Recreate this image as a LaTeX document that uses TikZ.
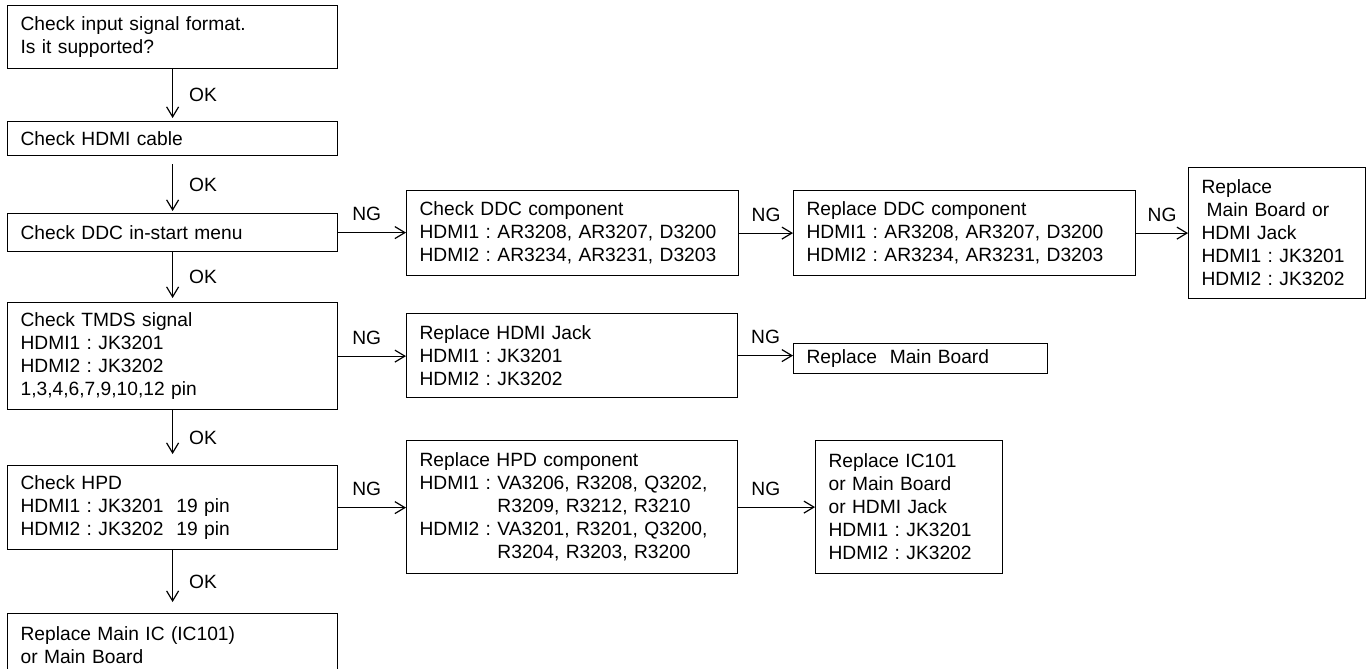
\documentclass[tikz,border=0pt]{standalone}
\usepackage{fontspec}
\setmainfont{Liberation Sans}
\usetikzlibrary{arrows.meta,calc,positioning}
\frenchspacing

\begin{document}
\begin{tikzpicture}[x=1pt,y=-1pt,
  box/.style={draw, line width=1.2pt, anchor=north west, align=left,
    inner xsep=13pt, inner ysep=0pt, font=\fontsize{19.2}{23}\selectfont},
  freccia/.style={line width=1.2pt, -{Straight Barb[length=10pt,width=12pt]}},
  etic/.style={font=\fontsize{19.2}{23}\selectfont, inner sep=2pt}]
\useasboundingbox (0,0) rectangle (1368,669);
% colonna principale
\node[box, text width=304pt, minimum height=63pt] (formato) at (7,5) {Check input signal format.\\Is it supported?};
\node[box, text width=304pt, minimum height=34pt] (cavo) at (7,121) {Check HDMI cable};
\node[box, text width=304pt, minimum height=38pt] (menu) at (7,213) {Check DDC in-start menu};
\node[box, text width=304pt, minimum height=107pt] (tmds) at (7,302) {Check TMDS signal\\HDMI1 : JK3201\\HDMI2 : JK3202\\1,3,4,6,7,9,10,12 pin};
\node[box, text width=304pt, minimum height=84pt] (hpd) at (7,465) {Check HPD\\HDMI1 : JK3201\ \ 19 pin\\HDMI2 : JK3202\ \ 19 pin};
\node[box, text width=304pt, minimum height=63pt] (mainic) at (7,613) {Replace Main IC (IC101)\\or Main Board};
% rami NG
\node[box, text width=306pt, minimum height=85pt] (ddc) at (406,190) {Check DDC component\\HDMI1 : AR3208, AR3207, D3200\\HDMI2 : AR3234, AR3231, D3203};
\node[box, text width=316pt, minimum height=85pt] (rddc) at (793,190) {Replace DDC component\\HDMI1 : AR3208, AR3207, D3200\\HDMI2 : AR3234, AR3231, D3203};
\node[box, text width=151pt, minimum height=131pt] (rmb) at (1188,167) {Replace\\\hspace{5pt}Main Board or\\HDMI Jack\\HDMI1 : JK3201\\HDMI2 : JK3202};
\node[box, text width=305pt, minimum height=84pt] (jack) at (406,313) {Replace HDMI Jack\\HDMI1 : JK3201\\HDMI2 : JK3202};
\node[box, text width=228pt, minimum height=30pt] (rmain) at (793,343) {Replace\ \ Main Board};
\node[box, text width=305pt, minimum height=133pt] (rhpd) at (406,440) {Replace HPD component\\HDMI1 : VA3206, R3208, Q3202,\\\hphantom{HDMI1 : }R3209, R3212, R3210\\HDMI2 : VA3201, R3201, Q3200,\\\hphantom{HDMI2 : }R3204, R3203, R3200};
\node[box, text width=161pt, minimum height=133pt] (ric) at (815,440) {Replace IC101\\or Main Board\\or HDMI Jack\\HDMI1 : JK3201\\HDMI2 : JK3202};
% frecce OK
\foreach \a/\b/\sa/\sb in {formato/cavo/0pt/3pt, cavo/menu/8pt/2pt, menu/tmds/0pt/4pt, tmds/hpd/0pt/11pt, hpd/mainic/0pt/11pt}
  \draw[freccia, shorten <=\sa, shorten >=\sb] (\a) -- (\b) node[etic, midway, right=14pt]{OK};
% frecce NG
\foreach \a/\b/\p in {menu/ddc/.42, ddc/rddc/.5, rddc/rmb/.5, tmds/jack/.42, jack/rmain/.5, hpd/rhpd/.42, rhpd/ric/.36}
  \draw[freccia] (\a.east) -- (\a.east -| \b.west) node[etic, pos=\p, above=9pt]{NG};
\end{tikzpicture}
\end{document}
